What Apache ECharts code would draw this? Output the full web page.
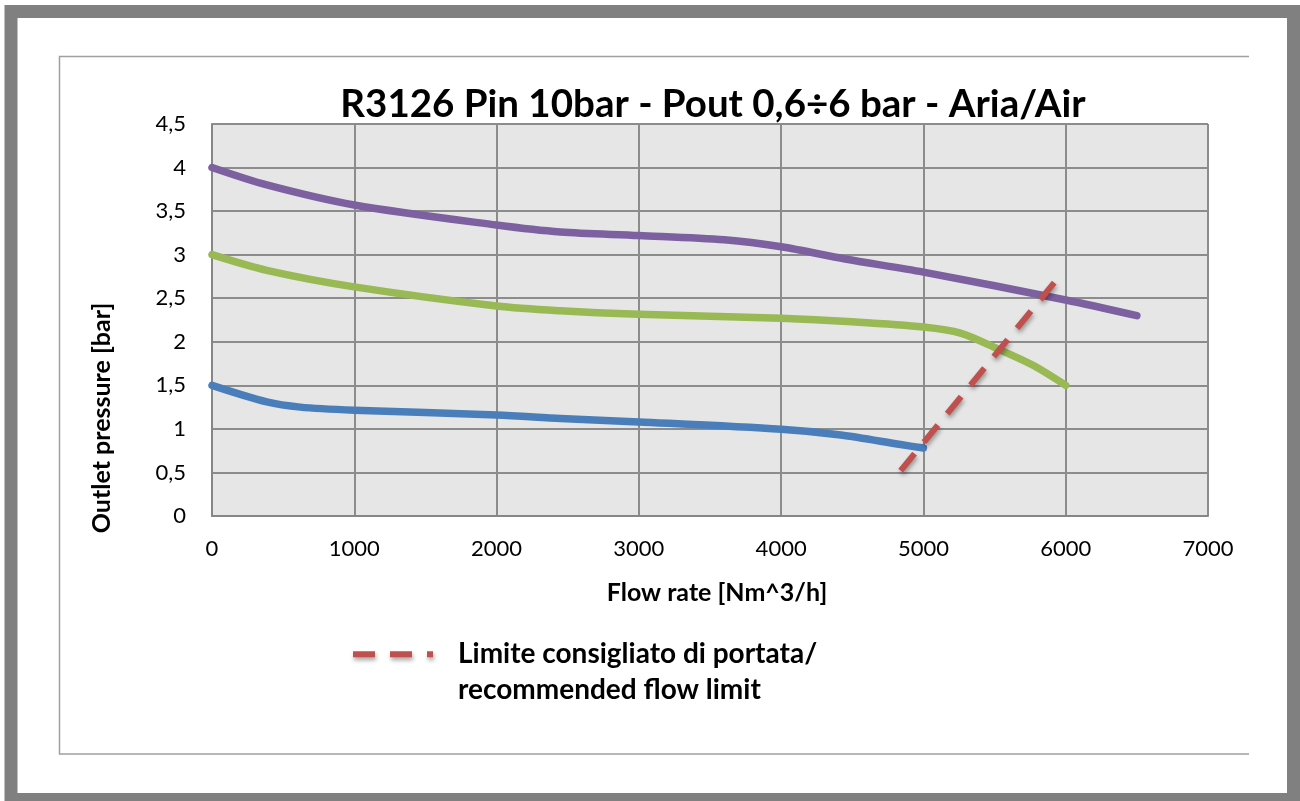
<!DOCTYPE html>
<html><head><meta charset="utf-8">
<script src="https://cdn.jsdelivr.net/npm/echarts@6/dist/echarts.min.js"></script>
<style>html,body{margin:0;padding:0;background:#fff;}#c{width:1300px;height:801px;}</style>
</head><body><div id="c"></div>
<script>
const titleText = 'R3126 Pin 10bar - Pout 0,6÷6 bar - Aria/Air';
const xAxisName = 'Flow rate [Nm^3/h]';
const yAxisName = 'Outlet pressure [bar]';
const limitName = 'Limite consigliato di portata/\nrecommended flow limit';

const purpleData = [[0,4.0],[385,3.80],[1000,3.57],[2000,3.34],[2450,3.26],[3000,3.22],[3600,3.17],[4000,3.09],[4450,2.95],[5000,2.80],[6000,2.48],[6500,2.30]];
const greenData  = [[0,3.0],[385,2.82],[1000,2.63],[2000,2.41],[2450,2.355],[3000,2.315],[4000,2.27],[4500,2.23],[5000,2.17],[5260,2.10],[5520,1.92],[5770,1.73],[6000,1.50]];
const blueData   = [[0,1.5],[385,1.31],[620,1.25],[1000,1.215],[2000,1.16],[2450,1.12],[3000,1.08],[4000,0.995],[4420,0.93],[4840,0.82],[5000,0.78]];
const limitData  = [[4840,0.52],[5920,2.68]];

const FONT = 'Lato';
const chart = echarts.init(document.getElementById('c'), null, {renderer:'canvas'});

function curve(name, data, color){
  return {name, type:'line', data, smooth:0.3, symbol:'none', z:3,
    lineStyle:{color, width:7.5, cap:'round', join:'round'}, itemStyle:{color}};
}

chart.setOption({
  animation:false,
  backgroundColor:'#fff',
  title:{text:titleText, left:708, top:80, textAlign:'center',
    textStyle:{fontFamily:FONT, fontWeight:'bold', fontSize:38.5, color:'#000'}},
  grid:{left:212, top:124, width:996, height:392, show:true, backgroundColor:'#e6e6e6', borderWidth:0},
  xAxis:{type:'value', min:0, max:7000, interval:1000,
    axisLine:{show:true, lineStyle:{color:'#868686', width:2}},
    axisTick:{show:false},
    axisLabel:{fontFamily:FONT, fontSize:22, color:'#000', margin:22, formatter:v=>String(v)},
    splitLine:{show:true, lineStyle:{color:'#8c8c8c', width:2}}},
  yAxis:{type:'value', min:0, max:4.5, interval:0.5,
    axisLine:{show:true, lineStyle:{color:'#868686', width:2}},
    axisTick:{show:false},
    axisLabel:{fontFamily:FONT, fontSize:22, color:'#000', margin:26,
      formatter:v=>String(v).replace('.',',')},
    splitLine:{show:true, lineStyle:{color:'#8c8c8c', width:2}}},
  legend:{data:[limitName], left:345, top:596, orient:'vertical',
    itemWidth:80, itemHeight:14, itemGap:10,
    formatter:name=>'\n'+name,
    itemStyle:{opacity:0},
    lineStyle:{color:'#c0504d', width:6, type:[22,15], cap:'butt',
      shadowColor:'rgba(0,0,0,0.35)', shadowBlur:4, shadowOffsetX:1, shadowOffsetY:3},
    textStyle:{fontFamily:FONT, fontWeight:'bold', fontSize:28, color:'#000', lineHeight:35.5, padding:[0,0,0,20]}},
  series:[
    curve('blue', blueData, '#4a7ebb'),
    curve('green', greenData, '#98b954'),
    curve('purple', purpleData, '#7d60a0'),
    {name:limitName, type:'line', data:limitData, symbol:'none', z:4,
      lineStyle:{color:'#c0504d', width:6, type:[22,14.8], cap:'butt',
        shadowColor:'rgba(0,0,0,0.35)', shadowBlur:4, shadowOffsetX:1, shadowOffsetY:3},
      itemStyle:{color:'#c0504d'}}
  ],
  graphic:[
    {type:'rect', silent:true, z:-1, shape:{x:11, y:11.5, width:1282.5, height:788},
      style:{fill:null, stroke:'#808080', lineWidth:13}},
    {type:'polyline', silent:true, z:-1, shape:{points:[[1249,56.5],[59.5,56.5],[59.5,754],[1249,754]]},
      style:{fill:null, stroke:'#a0a0a0', lineWidth:1.5}},
    {type:'text', silent:true, x:102, y:418, rotation:Math.PI/2,
      style:{text:yAxisName, fontFamily:FONT, fontWeight:'bold', fontSize:25, fill:'#000',
        align:'center', verticalAlign:'middle'}},
    {type:'text', silent:true, x:717, y:593,
      style:{text:xAxisName, fontFamily:FONT, fontWeight:'bold', fontSize:25, fill:'#000',
        align:'center', verticalAlign:'middle'}}
  ]
});
</script></body></html>
